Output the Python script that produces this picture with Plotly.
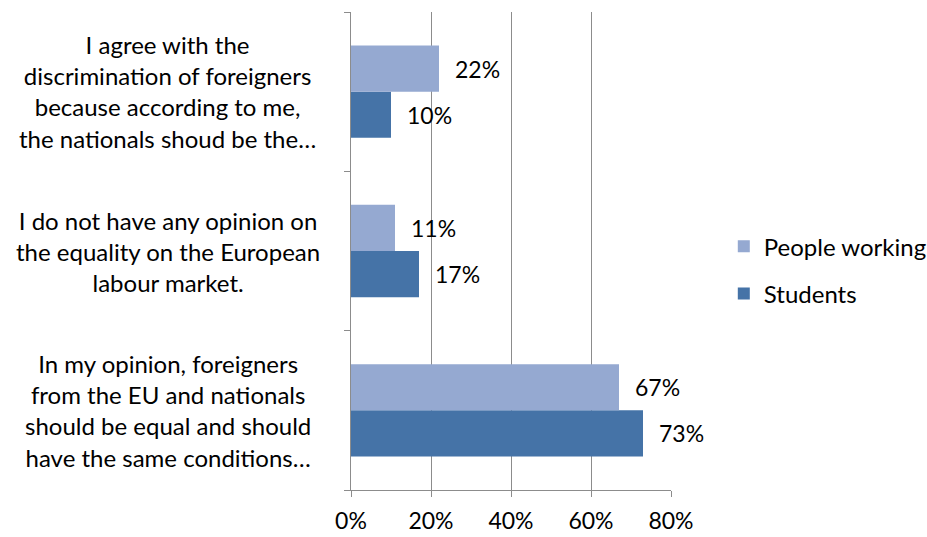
import plotly.graph_objects as go

# Categories listed bottom-to-top (Plotly draws the first category at the bottom)
categories = ["equal", "no_opinion", "agree"]
category_labels = [
    "In my opinion, foreigners<br>from the EU and nationals<br>should be equal and should<br>have the same conditions…",
    "I do not have any opinion on<br>the equality on the European<br>labour market.",
    "I agree with the<br>discrimination of foreigners<br>because according to me,<br>the nationals shoud be the…",
]
students = [0.73, 0.17, 0.10]
people_working = [0.67, 0.11, 0.22]
x_ticks = [0, 0.2, 0.4, 0.6, 0.8]
x_tick_labels = ["0%", "20%", "40%", "60%", "80%"]

FONT = "Lato, Carlito, Calibri, 'Liberation Sans', sans-serif"
DARK = "#4573A7"
LIGHT = "#95A9D1"
GRID = "#8C8C8C"
BARGAP = 0.42
TEXT_SIZE = 24
NUM_SIZE = 23

fig = go.Figure()
fig.add_trace(go.Bar(
    y=categories, x=students, orientation="h", name="Students",
    marker=dict(color=DARK, line=dict(width=0)), legendrank=2, legendgroup="s",
))
fig.add_trace(go.Bar(
    y=categories, x=people_working, orientation="h", name="People working",
    marker=dict(color=LIGHT, line=dict(width=0)), legendrank=1, legendgroup="p",
))

# Value labels placed just right of each bar end
half = (1 - BARGAP) / 4
annotations = []
for i, (s, p) in enumerate(zip(students, people_working)):
    for val, off in ((s, -half), (p, half)):
        annotations.append(dict(
            x=val, y=i + off, xref="x", yref="y", text=f"{round(val * 100)}%",
            showarrow=False, xanchor="left", yanchor="middle", xshift=14,
            font=dict(family=FONT, size=NUM_SIZE, color="#000000"),
        ))

# Category labels, centred to the left of the plot
for i, lab in enumerate(category_labels):
    annotations.append(dict(
        x=-0.572, y=i, xref="paper", yref="y", text=lab, showarrow=False,
        xanchor="center", yanchor="middle", align="center",
        font=dict(family=FONT, size=TEXT_SIZE, color="#000000"),
    ))

fig.update_layout(
    width=927, height=537,
    margin=dict(l=351, r=256, t=12, b=47, autoexpand=False),
    paper_bgcolor="white", plot_bgcolor="white",
    barmode="group", bargap=BARGAP, bargroupgap=0,
    font=dict(family=FONT, size=TEXT_SIZE, color="#000000"),
    showlegend=True,
    legend=dict(
        x=1.165, y=0.46, xanchor="left", yanchor="middle",
        traceorder="grouped", tracegroupgap=13,
        font=dict(family=FONT, size=TEXT_SIZE, color="#000000"),
        itemwidth=30, bgcolor="rgba(0,0,0,0)",
    ),
    annotations=annotations,
)
fig.update_xaxes(
    range=[0, 0.8], tickvals=x_ticks, ticktext=x_tick_labels,
    showgrid=True, gridcolor=GRID, gridwidth=1,
    showline=True, linecolor=GRID, linewidth=1,
    ticks="outside", ticklen=6, tickcolor=GRID, ticklabelstandoff=4,
    zeroline=False, tickfont=dict(family=FONT, size=NUM_SIZE, color="#000000"),
)
fig.update_yaxes(
    showticklabels=False, showgrid=False,
    showline=True, linecolor=GRID, linewidth=1,
    ticks="outside", ticklen=6, tickcolor=GRID, tickson="boundaries",
    categoryorder="array", categoryarray=categories,
)

fig.write_html("out.html")
